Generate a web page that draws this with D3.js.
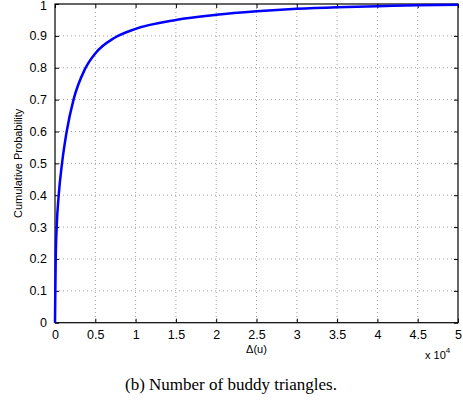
<!DOCTYPE html>
<html><head><meta charset="utf-8">
<script src="https://cdn.jsdelivr.net/npm/d3@7"></script>
<style>body{margin:0;background:#fff}svg{display:block}</style>
</head><body>
<script>
const deltaValues = [0, 40, 90, 210, 460, 870, 1450, 2300, 3700, 5000, 7400, 10000, 15000, 20000, 25000, 30000, 35000, 40000, 45000, 50000];
const cdfValues   = [0, 0.10, 0.20, 0.30, 0.40, 0.50, 0.60, 0.70, 0.795, 0.845, 0.894, 0.922, 0.950, 0.966, 0.977, 0.985, 0.990, 0.993, 0.996, 0.998];
const xTicks = [0, 5000, 10000, 15000, 20000, 25000, 30000, 35000, 40000, 45000, 50000];
const xTickLabels = ["0","0.5","1","1.5","2","2.5","3","3.5","4","4.5","5"];
const yTicks = [0,0.1,0.2,0.3,0.4,0.5,0.6,0.7,0.8,0.9,1];
const yTickLabels = ["0","0.1","0.2","0.3","0.4","0.5","0.6","0.7","0.8","0.9","1"];

const W = 463, H = 405;
const L = 55, R = 458, T = 4, B = 322.7;
const svg = d3.select("body").append("svg").attr("width", W).attr("height", H);
const x = d3.scaleLinear().domain([0, 50000]).range([L, R]);
const y = d3.scaleLinear().domain([0, 1]).range([B, T]);
const font = "'Liberation Sans', Arial, Helvetica, sans-serif";

// grid
const g = svg.append("g");
g.selectAll(".vg").data(xTicks.slice(1, -1)).enter().append("line")
  .attr("x1", d => x(d)).attr("x2", d => x(d)).attr("y1", T).attr("y2", B)
  .attr("stroke", "#888").attr("stroke-width", 0.8).attr("stroke-dasharray", "1,3");
g.selectAll(".hg").data(yTicks.slice(1, -1)).enter().append("line")
  .attr("y1", d => y(d)).attr("y2", d => y(d)).attr("x1", L).attr("x2", R)
  .attr("stroke", "#888").attr("stroke-width", 0.8).attr("stroke-dasharray", "1,3");

// axes with inward ticks
const tl = 4;
const xb = svg.append("g").attr("transform", `translate(0,${B})`)
  .call(d3.axisBottom(x).tickValues(xTicks).tickSize(-tl).tickPadding(7).tickFormat((d,i) => xTickLabels[i]));
const xt = svg.append("g").attr("transform", `translate(0,${T})`)
  .call(d3.axisTop(x).tickValues(xTicks).tickSize(-tl).tickFormat(""));
const yl = svg.append("g").attr("transform", `translate(${L},0)`)
  .call(d3.axisLeft(y).tickValues(yTicks).tickSize(-tl).tickPadding(8).tickFormat((d,i) => yTickLabels[i]));
const yr = svg.append("g").attr("transform", `translate(${R},0)`)
  .call(d3.axisRight(y).tickValues(yTicks).tickSize(-tl).tickFormat(""));
[xb, xt, yl, yr].forEach(a => {
  a.select(".domain").remove();
  a.selectAll("line").attr("stroke", "#000").attr("stroke-width", 1);
  a.selectAll("text").attr("font-family", font).attr("font-size", 12.5).attr("fill", "#000");
});
yl.selectAll(".tick").filter(d => d === 1).select("text").attr("dy", "0.45em");
svg.append("rect").attr("x", L).attr("y", T).attr("width", R - L).attr("height", B - T)
  .attr("fill", "none").attr("stroke", "#000").attr("stroke-width", 1.2);

// curve
const line = d3.line().x((d, i) => x(d)).y((d, i) => y(cdfValues[i])).curve(d3.curveMonotoneX);
svg.append("path").datum(deltaValues).attr("d", line)
  .attr("fill", "none").attr("stroke", "#0000ff").attr("stroke-width", 2.5);

// labels
svg.append("text").attr("transform", `translate(22,${(T + B) / 2}) rotate(-90)`)
  .attr("text-anchor", "middle").attr("font-family", font).attr("font-size", 11).text("Cumulative Probability");
svg.append("text").attr("x", x(25000)).attr("y", 353).attr("text-anchor", "middle")
  .attr("font-family", font).attr("font-size", 11).text("Δ(u)");
const ex = svg.append("text").attr("x", 425).attr("y", 359).attr("font-family", font).attr("font-size", 11);
ex.append("tspan").text("x 10");
ex.append("tspan").attr("dy", -6).attr("font-size", 8).text("4");
svg.append("text").attr("x", 231).attr("y", 390).attr("text-anchor", "middle")
  .attr("font-family", "'Liberation Serif', 'Times New Roman', serif").attr("font-size", 17)
  .text("(b) Number of buddy triangles.");
</script>
</body></html>
